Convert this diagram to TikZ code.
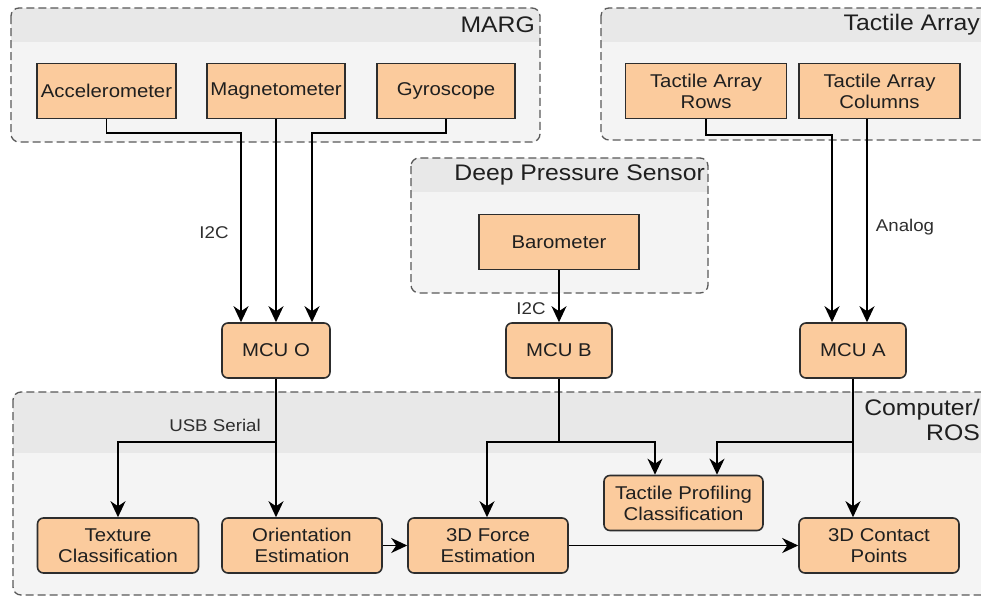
\documentclass[tikz,border=0pt]{standalone}
\usepackage{fontspec}
\setmainfont{Liberation Sans}[FakeStretch=1.1]
\usetikzlibrary{arrows.meta,calc}
\definecolor{boxfill}{RGB}{251,203,157}
\definecolor{grpfill}{RGB}{244,244,244}
\definecolor{hdrfill}{RGB}{232,232,232}
\definecolor{edgec}{RGB}{45,45,45}
\newcommand\grpbox[5]{%
  \begin{scope}
    \clip[rounded corners=8pt] (#1,#2) rectangle (#3,#4);
    \fill[grpfill] (#1,#2) rectangle (#3,#4);
    \fill[hdrfill] (#1,#2) rectangle (#3,#5);
  \end{scope}
  \draw[grp] (#1,#2) rectangle (#3,#4);}
\begin{document}
\begin{tikzpicture}[x=1pt,y=-1pt,
  sensor/.style={draw=edgec, line width=1.6pt, fill=boxfill, minimum height=55pt, inner sep=0pt, align=center, font=\fontsize{18.5}{21}\selectfont, text=black!88},
  proc/.style={sensor, rounded corners=6pt},
  grp/.style={draw=black!65, dash pattern=on 8pt off 4pt, line width=1.3pt, rounded corners=8pt},
  arr/.style={draw=black, line width=1.6pt, -{Stealth[length=16pt,width=15pt,inset=5pt]}},
  ln/.style={draw=black, line width=1.6pt},
  hdr/.style={font=\fontsize{22.5}{25}\selectfont, text=black!88, inner sep=0pt, align=right},
  lbl/.style={font=\fontsize{17}{19}\selectfont, text=black!82, inner sep=0pt}]
\useasboundingbox (0,0) rectangle (981,597);
\clip (0,0) rectangle (981,597);
\fill[white] (0,0) rectangle (981,597);

% groups
\grpbox{11}{8}{540}{142}{42}
\grpbox{601}{8}{1000}{140}{42}
\grpbox{411}{158}{708}{293}{192}
\grpbox{13}{392}{1000}{595}{453}

\node[hdr, anchor=east] (hmarg) at (535,25) {MARG};
\node[hdr, anchor=east] (htact) at (980,25) {Tactile Array};
\node[hdr, anchor=east] (hdps) at (705,175) {Deep Pressure Sensor};
\node[hdr, anchor=north east] (hros) at (980,399) {Computer/\\ROS};

% sensor nodes
\node[sensor, minimum width=139pt] (acc) at (106.5,91) {Accelerometer};
\node[sensor, minimum width=138pt] (mag) at (276,91) {Magnetometer};
\node[sensor, minimum width=138pt] (gyro) at (446,91) {Gyroscope};
\node[sensor, minimum width=161pt] (rows) at (706,91) {Tactile Array\\Rows};
\node[sensor, minimum width=161pt] (cols) at (879.5,91) {Tactile Array\\Columns};
\node[sensor, minimum width=160pt] (baro) at (559,242) {Barometer};

% MCUs
\node[proc, minimum width=108pt] (mcuo) at (276,350.5) {MCU O};
\node[proc, minimum width=106pt] (mcub) at (559,350.5) {MCU B};
\node[proc, minimum width=106pt] (mcua) at (853,350.5) {MCU A};

% computer nodes
\node[proc, minimum width=161pt] (tex) at (118,545.5) {Texture\\Classification};
\node[proc, minimum width=160pt] (ori) at (302,545.5) {Orientation\\Estimation};
\node[proc, minimum width=160pt] (force) at (488,545.5) {3D Force\\Estimation};
\node[proc, minimum width=159pt] (prof) at (683.5,503) {Tactile Profiling\\Classification};
\node[proc, minimum width=160pt] (contact) at (879,545.5) {3D Contact\\Points};

% junctions
\coordinate (j1) at (241,133);
\coordinate (j2) at (312,133);
\coordinate (j3) at (832,135);
\coordinate (j4) at (867,135);
\coordinate (b1) at (276,442);
\coordinate (b2) at (559,442);
\coordinate (b3) at (853,442);
\coordinate (p1) at (655,442);
\coordinate (p2) at (717,442);

% connectors
\draw[arr] (acc.south) |- (j1) -- (j1 |- mcuo.north);
\draw[arr] (mag.south) -- (mcuo.north);
\draw[arr] (gyro.south) |- (j2) -- (j2 |- mcuo.north);
\draw[arr] (rows.south) |- (j3) -- (j3 |- mcua.north);
\draw[arr] (cols.south -| j4) -- (j4 |- mcua.north);
\draw[arr] (baro.south) -- (mcub.north);

\draw[arr] (mcuo.south) -- (mcuo.south |- ori.north);
\draw[arr] (b1) -| (tex.north);
\draw[ln] (mcub.south) -- (b2);
\draw[arr] (b2) -| (force.north -| 487,0);
\draw[arr] (b2) -| (p1 |- prof.north);
\draw[arr] (mcua.south) -- (mcua.south |- contact.north);
\draw[arr] (b3) -| (p2 |- prof.north);
\draw[arr] (ori.east) -- (force.west);
\draw[arr] (force.east) -- (contact.west);

% labels
\node[lbl] (l1) at (214,233) {I2C};
\node[lbl] (l2) at (905,227) {Analog};
\node[lbl] (l3) at (531,309) {I2C};
\node[lbl] (l4) at (215,425) {USB Serial};
\end{tikzpicture}
\end{document}
